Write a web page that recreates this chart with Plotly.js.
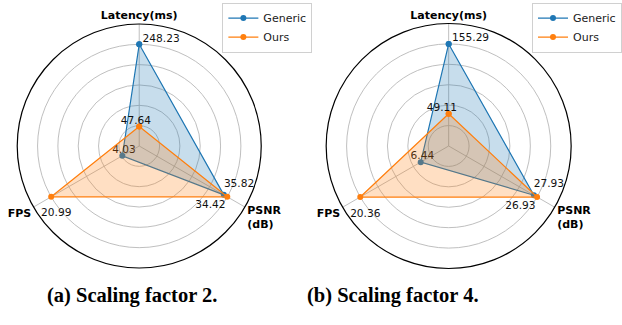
<!DOCTYPE html>
<html>
<head>
<meta charset="utf-8">
<script src="https://cdn.plot.ly/plotly-3.0.1.min.js"></script>
<style>
  html, body { margin: 0; padding: 0; background: #fff; }
  #chart { width: 622px; height: 325px; }
</style>
</head>
<body>
<div id="chart"></div>
<script>
// Axis categories (Latency at top, FPS lower-left, PSNR lower-right)
const axes = ['Latency(ms)', 'FPS', 'PSNR<br>(dB)'];

// (a) Scaling factor 2
const genericA = [248.23, 4.03, 34.42];
const oursA    = [47.64, 20.99, 35.82];
// (b) Scaling factor 4
const genericB = [155.29, 6.44, 26.93];
const oursB    = [49.11, 20.36, 27.93];

const seriesNames = ['Generic', 'Ours'];
const captions = ['(a) Scaling factor 2.', '(b) Scaling factor 4.'];

const BLUE = '#1f77b4', ORANGE = '#ff7f0e';
const NB = '\u00A0';

// label styling per axis point: [textposition, offset size, leading pad, trailing pad]
const genLabelStyle = [
  ['top right', 0, 1, 0],
  ['top center', 0, 1, 0],
  ['bottom center', 7, 0, 8]
];
const oursLabelStyle = [
  ['top center', 0, 0, 2],
  ['bottom center', 17, 3, 0],
  ['top center', 10, 7, 0]
];
const oursLabelStyleB = [
  ['top center', 0, 0, 4],
  ['bottom center', 17, 3, 0],
  ['top center', 10, 7, 0]
];

function norm(vals, other) {
  return vals.map((v, i) => v / Math.max(v, other[i]));
}
function closed(arr) { return arr.concat([arr[0]]); }

function seriesTraces(vals, rN, polar, legend, name, color, fillcolor, style) {
  const theta = closed(axes);
  return [
    {
      type: 'scatterpolar', subplot: polar, legend: legend, name: name,
      r: closed(rN), theta: theta, mode: 'lines+markers',
      line: {color: color, width: 1.2},
      marker: {color: color, size: 6},
      cliponaxis: false
    },
    {
      type: 'scatterpolar', subplot: polar, showlegend: false,
      r: closed(rN), theta: theta, mode: 'none',
      fill: 'toself', fillcolor: fillcolor
    },
    {
      type: 'scatterpolar', subplot: polar, showlegend: false,
      r: rN, theta: axes, mode: 'markers+text',
      text: vals.map((v, i) => NB.repeat(style[i][2]) + v.toFixed(2) + NB.repeat(style[i][3])),
      textposition: style.map(s => s[0]),
      textfont: {family: 'DejaVu Sans', size: 10.6, color: '#111'},
      marker: {size: style.map(s => s[1]), opacity: 0, color: color},
      cliponaxis: false
    }
  ];
}

function chartTraces(gen, ours, polar, legend, oStyle) {
  const gN = norm(gen, ours), oN = norm(ours, gen);
  return []
    .concat(seriesTraces(gen, gN, polar, legend, seriesNames[0], BLUE, 'rgba(31,119,180,0.25)', genLabelStyle))
    .concat(seriesTraces(ours, oN, polar, legend, seriesNames[1], ORANGE, 'rgba(255,127,14,0.25)', oStyle));
}

const data = []
  .concat(chartTraces(genericA, oursA, 'polar', 'legend', oursLabelStyle))
  .concat(chartTraces(genericB, oursB, 'polar2', 'legend2', oursLabelStyleB));

function polarCfg(xdom) {
  return {
    domain: {x: xdom, y: [1 - 270/325, 1 - 22/325]},
    bgcolor: '#fff',
    radialaxis: {
      range: [0, 1.2], tickvals: [0.2, 0.4, 0.6, 0.8, 1.0],
      showticklabels: false, ticks: '', showline: false,
      gridcolor: '#b8b8b8', gridwidth: 0.9
    },
    angularaxis: {
      rotation: 90, direction: 'counterclockwise',
      categoryorder: 'array', categoryarray: axes,
      linecolor: '#000', linewidth: 1.2, showline: true,
      gridcolor: '#b8b8b8', gridwidth: 0.9, ticks: '',
      tickfont: {family: 'DejaVu Sans', size: 11, color: '#000', weight: 'bold'}
    }
  };
}

function legendCfg(x) {
  return {
    x: x, y: 0.992, xanchor: 'left', yanchor: 'top',
    bgcolor: '#fff', bordercolor: '#d0d0d0', borderwidth: 1,
    font: {family: 'DejaVu Sans', size: 11, color: '#222'},
    tracegroupgap: 0, itemwidth: 30
  };
}

const layout = {
  width: 622, height: 325,
  margin: {l: 0, r: 0, t: 0, b: 0},
  paper_bgcolor: '#fff',
  showlegend: true,
  polar: polarCfg([17.5/622, 265.5/622]),
  polar2: polarCfg([331.5/622, 580.5/622]),
  legend: legendCfg(226/622),
  legend2: legendCfg(541/622),
  annotations: [
    {text: '<b>' + captions[0] + '</b>', xref: 'paper', yref: 'paper',
     x: 134.5/622, y: 1 - 295/325, xanchor: 'center', yanchor: 'middle',
     showarrow: false, font: {family: 'Liberation Serif', size: 20.5, color: '#000'}},
    {text: '<b>' + captions[1] + '</b>', xref: 'paper', yref: 'paper',
     x: 399/622, y: 1 - 295/325, xanchor: 'center', yanchor: 'middle',
     showarrow: false, font: {family: 'Liberation Serif', size: 20.5, color: '#000'}}
  ]
};

Plotly.newPlot('chart', data, layout, {displayModeBar: false, staticPlot: true});
</script>
</body>
</html>
